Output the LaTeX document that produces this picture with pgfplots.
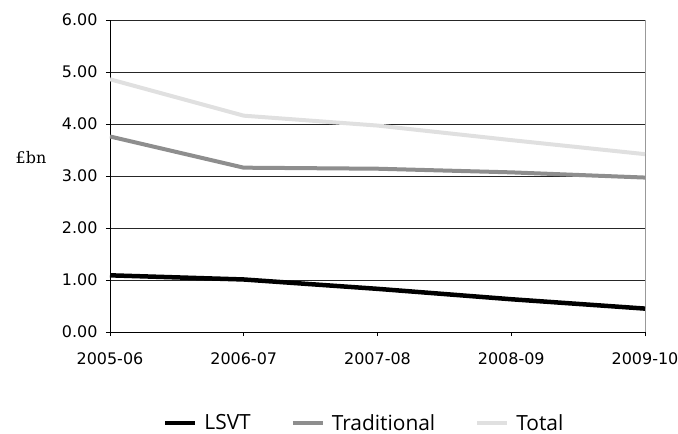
\documentclass[border=0pt]{standalone}
\usepackage{fontspec}
\setmainfont{Open Sans}
\newfontfamily\tickfont{DejaVu Sans}
\newfontfamily\seriffont{DejaVu Serif}
\usepackage{pgfplots}
\pgfplotsset{compat=1.18}
\definecolor{tradgray}{HTML}{8E8E8E}
\definecolor{totgray}{HTML}{E0E0E0}
\begin{document}
\begin{tikzpicture}
\begin{axis}[
  scale only axis, width=535bp, height=312bp,
  xmin=0, xmax=4, ymin=0, ymax=6,
  xtick={0,1,2,3,4},
  xticklabels={2005-06,2006-07,2007-08,2008-09,2009-10},
  ytick={0,1,2,3,4,5,6},
  /pgf/number format/assume math mode=true,
  yticklabel style={/pgf/number format/fixed, /pgf/number format/fixed zerofill, /pgf/number format/precision=2, xshift=-5bp},
  xticklabel style={yshift=-13bp},
  tick label style={font=\tickfont\fontsize{16}{19}\selectfont},
  axis x line*=bottom, axis y line*=left,
  axis line style={black, line width=0.8bp, -},
  tick align=outside, major tick length=4bp,
  tick style={black, line width=0.7bp},
  ymajorgrids, major grid style={black!85, line width=0.6bp},
  extra x ticks={4}, extra x tick labels={},
  extra x tick style={xmajorgrids=true, major grid style={black!40, line width=1bp}},
  ylabel={\seriffont\fontsize{16}{19}\selectfont £bn},
  every axis y label/.style={at={(rel axis cs:0,0.56)}, anchor=center, xshift=-79bp},
  legend style={at={(0.475,-0.292)}, anchor=center, draw=none, fill=none,
    legend columns=3, font=\fontsize{21}{25}\selectfont,
    /tikz/every odd column/.append style={column sep=5bp},
    /tikz/every even column/.append style={column sep=38bp}},
  legend image code/.code={\draw[#1] (0bp,0bp) -- (30bp,0bp);},
]
\addplot[black, line width=4.5bp] coordinates {(0,1.09)(1,1.01)(2,0.83)(3,0.63)(4,0.45)};
\addplot[tradgray, line width=4bp] coordinates {(0,3.76)(1,3.16)(2,3.14)(3,3.07)(4,2.97)};
\addplot[totgray, line width=4bp] coordinates {(0,4.86)(1,4.16)(2,3.97)(3,3.69)(4,3.42)};
\legend{LSVT,Traditional,Total}
\end{axis}
\pgfresetboundingbox
\path[use as bounding box] ([xshift=-110bp,yshift=-102bp]current axis.south west) rectangle ([xshift=33bp,yshift=20bp]current axis.north east);
\end{tikzpicture}
\end{document}
